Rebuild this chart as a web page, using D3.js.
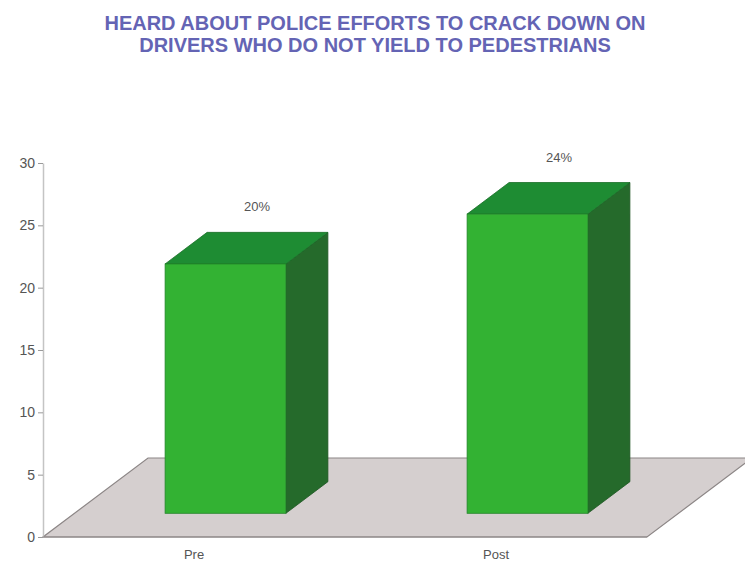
<!DOCTYPE html>
<html>
<head>
<meta charset="utf-8">
<script src="https://cdn.jsdelivr.net/npm/d3@7"></script>
<style>
  html, body { margin: 0; padding: 0; background: #ffffff; }
  svg { display: block; }
</style>
</head>
<body>
<svg id="chart" width="745" height="563"></svg>
<script>
// Survey results: share who heard about the police crackdown
const categories = ["Pre", "Post"];
const values = [20, 24];
const valueLabels = ["20%", "24%"];
const yTicks = [0, 5, 10, 15, 20, 25, 30];
const titleLines = [
  "HEARD ABOUT POLICE EFFORTS TO CRACK DOWN ON",
  "DRIVERS WHO DO NOT YIELD TO PEDESTRIANS"
];

const svg = d3.select("#chart");

// Plot frame (front plane of the 3-D box)
const plotLeft = 43, plotRight = 647, plotBottom = 537, plotTop = 163;
// Depth of the floor in screen units
const depthX = 105, depthY = 79;
// Bars sit between 30% and 70% of the floor depth
const barFrontFrac = 0.3, barDepthFrac = 0.4;

const x = d3.scaleBand().domain(categories).range([plotLeft, plotRight]).padding(0);
const y = d3.scaleLinear().domain([0, 30]).range([plotBottom, plotTop]);
const barWidth = x.bandwidth() * 0.4;

// Title
svg.append("g")
  .selectAll("text")
  .data(titleLines)
  .join("text")
  .attr("x", 375)
  .attr("y", (d, i) => 30 + i * 22)
  .attr("text-anchor", "middle")
  .attr("font-family", "Liberation Sans, Arial, sans-serif")
  .attr("font-weight", "bold")
  .attr("font-size", 20)
  .attr("fill", "#6464b4")
  .text(d => d);

// Floor
const floorPts = [
  [plotLeft, y(0)],
  [plotRight, y(0)],
  [plotRight + depthX, y(0) - depthY],
  [plotLeft + depthX, y(0) - depthY]
];
svg.append("polygon")
  .attr("points", floorPts.map(p => p.join(",")).join(" "))
  .attr("fill", "#d5cfcf")
  .attr("stroke", "#8c8686")
  .attr("stroke-width", 1.2);

// Y axis
const yAxis = d3.axisLeft(y)
  .tickValues(yTicks)
  .tickSize(5)
  .tickSizeOuter(0)
  .tickPadding(3);
const gy = svg.append("g")
  .attr("transform", `translate(${plotLeft},0)`)
  .call(yAxis);
gy.select(".domain").attr("stroke", "#c4c4c4").attr("stroke-width", 1.5);
gy.selectAll(".tick line").attr("stroke", "#9a9a9a");
gy.selectAll(".tick text")
  .attr("font-family", "Liberation Sans, Arial, sans-serif")
  .attr("font-size", 14)
  .attr("fill", "#555");

// Floor front edge over the axis foot
svg.append("line")
  .attr("x1", plotLeft).attr("x2", plotRight)
  .attr("y1", y(0)).attr("y2", y(0))
  .attr("stroke", "#8c8686").attr("stroke-width", 1.2);

// 3-D bars
const offX = depthX * barFrontFrac, offY = depthY * barFrontFrac;
const bdx = depthX * barDepthFrac, bdy = depthY * barDepthFrac;

const bars = svg.append("g")
  .selectAll("g")
  .data(categories.map((c, i) => ({ c, v: values[i], label: valueLabels[i] })))
  .join("g");

const geom = d => {
  const x0 = x(d.c) + x.bandwidth() / 2 - barWidth / 2 + offX;
  const x1 = x0 + barWidth;
  const yb = y(0) - offY;
  const yt = y(d.v) - offY;
  return { x0, x1, yb, yt };
};

// Side face
bars.append("polygon")
  .attr("points", d => {
    const g = geom(d);
    return [[g.x1, g.yt], [g.x1 + bdx, g.yt - bdy], [g.x1 + bdx, g.yb - bdy], [g.x1, g.yb]]
      .map(p => p.join(",")).join(" ");
  })
  .attr("fill", "#256a2b")
  .attr("stroke", "#1d5522").attr("stroke-width", 0.8);

// Top face
bars.append("polygon")
  .attr("points", d => {
    const g = geom(d);
    return [[g.x0, g.yt], [g.x0 + bdx, g.yt - bdy], [g.x1 + bdx, g.yt - bdy], [g.x1, g.yt]]
      .map(p => p.join(",")).join(" ");
  })
  .attr("fill", "#1e8c33")
  .attr("stroke", "#1a6e28").attr("stroke-width", 0.8);

// Front face
bars.append("rect")
  .attr("x", d => geom(d).x0)
  .attr("y", d => geom(d).yt)
  .attr("width", barWidth)
  .attr("height", d => geom(d).yb - geom(d).yt)
  .attr("fill", "#33b233")
  .attr("stroke", "#23852a").attr("stroke-width", 0.8);

// Value labels above each bar
bars.append("text")
  .attr("x", d => x(d.c) + x.bandwidth() / 2 + offX + bdx * 0.75)
  .attr("y", d => geom(d).yt - bdy - 21)
  .attr("text-anchor", "middle")
  .attr("font-family", "Liberation Sans, Arial, sans-serif")
  .attr("font-size", 13)
  .attr("fill", "#555")
  .text(d => d.label);

// Category labels along the floor's front edge
svg.append("g")
  .selectAll("text")
  .data(categories)
  .join("text")
  .attr("x", d => x(d) + x.bandwidth() / 2)
  .attr("y", 559)
  .attr("text-anchor", "middle")
  .attr("font-family", "Liberation Sans, Arial, sans-serif")
  .attr("font-size", 13)
  .attr("fill", "#555")
  .text(d => d);
</script>
</body>
</html>
